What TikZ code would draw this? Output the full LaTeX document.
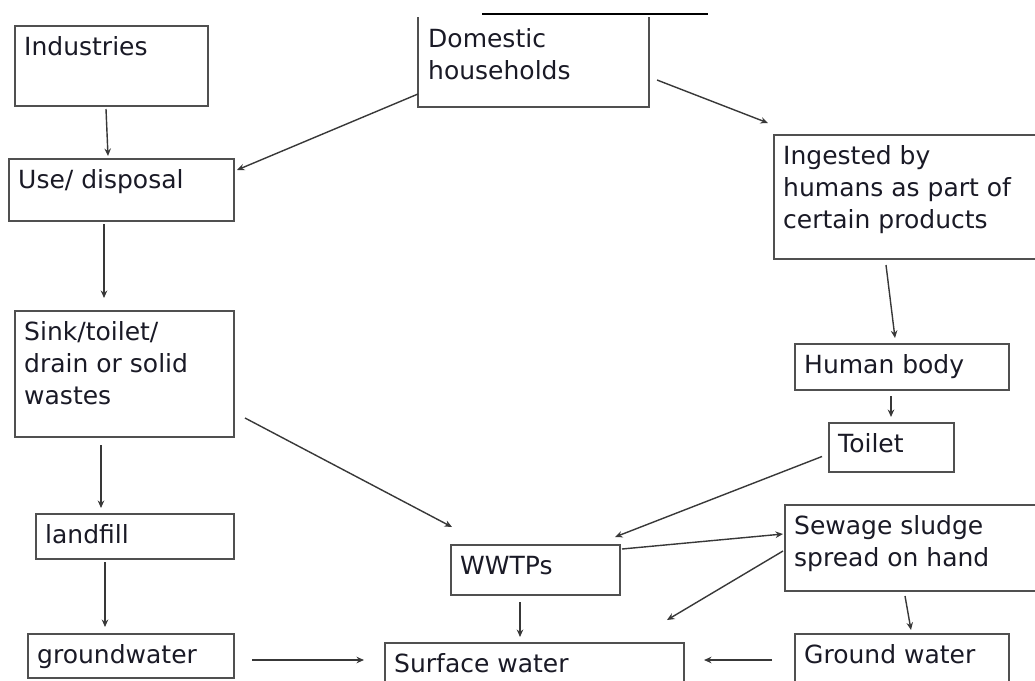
\documentclass[tikz,border=0pt]{standalone}
\usepackage{fontspec}
\setmainfont{DejaVu Sans}
\usetikzlibrary{arrows.meta}
\definecolor{boxc}{HTML}{505050}
\definecolor{arrc}{HTML}{383838}
\definecolor{txtc}{HTML}{1A1A26}
\tikzset{
  box/.style={draw=boxc, line width=2pt, rectangle, inner sep=0pt, anchor=north west},
  openbox/.style={box, draw=none},
  txt/.style={anchor=north west, inner sep=0pt, align=left, text=txtc, font=\fontsize{25}{32}\selectfont},
  arr/.style={draw=arrc, line width=1.4pt, -{Stealth[length=7.5pt,width=6.5pt]}},
  rule/.style={draw=black, line width=1.8pt},
}
\newcommand\mybox[7][box]{%
  \node[#1, minimum width={#5-#3}, minimum height={#6-#4}] (#2) at (#3,#4) {};
  \node[txt] (#2-t) at ([shift={(10,10)}]#2.north west) {\rule{0pt}{20pt}#7};
}
\begin{document}
\begin{tikzpicture}[x=1pt, y=-1pt]
\useasboundingbox (0,0) rectangle (1035,680);
\clip (0,0) rectangle (1035,680);
\fill[white] (0,0) rectangle (1035,680);

% boxes
\mybox{ind}{14}{25}{207}{105}{Industries}
\mybox[openbox]{dom}{418}{17}{647}{105}{Domestic\\households}
\draw[draw=boxc, line width=2pt] (dom.north west) -- (dom.south west) -- (dom.south east) -- (dom.north east);
\draw[rule] (482,14) -- (708,14);
\mybox{use}{8}{158}{233}{220}{Use/ disposal}
\mybox{ing}{773}{134}{1040}{258}{Ingested by\\humans as part of\\certain products}
\mybox{sink}{14}{310}{233}{436}{Sink/toilet/\\drain or solid\\wastes}
\mybox{hum}{794}{343}{1008}{389}{Human body}
\mybox{toi}{828}{422}{953}{471}{Toilet}
\mybox{land}{35}{513}{233}{558}{landfill}
\mybox{wwtp}{450}{544}{619}{594}{WWTPs}
\mybox{sew}{784}{504}{1040}{590}{Sewage sludge\\spread on hand}
\mybox{grw}{27}{633}{233}{677}{groundwater}
\mybox{surf}{384}{642}{683}{700}{Surface water}
\mybox{gw}{794}{633}{1008}{700}{Ground water}

% connectors
\draw[arr] ([shift={(-5.5,2)}]ind.south) -- ([shift={(-13.5,-2)}]use.north);
\draw[arr] ([shift={(0,-13)}]dom.south west) -- ([shift={(2,12)}]use.north east);
\draw[arr] ([shift={(8,-27)}]dom.south east) -- ([shift={(-5,-11)}]ing.north west);
\draw[arr] ([shift={(-17.5,2)}]use.south) -- ([shift={(-20.5,-12)}]sink.north);
\draw[arr] ([shift={(113,5)}]ing.south west) -- ([shift={(-7,-5)}]hum.north);
\draw[arr] ([shift={(-11,5)}]hum.south) -- ([shift={(-0.5,-5)}]toi.north);
\draw[arr] ([shift={(10,-20)}]sink.south east) -- ([shift={(2,-17)}]wwtp.north west);
\draw[arr] ([shift={(-23.5,7)}]sink.south) -- ([shift={(-34,-5)}]land.north);
\draw[arr] ([shift={(-6,9)}]toi.west) -- ([shift={(-6,-7)}]wwtp.north east);
\draw[arr] ([shift={(1,5)}]wwtp.north east) -- ([shift={(-1,30)}]sew.north west);
\draw[arr] ([shift={(-1,3)}]sew.west) -- ([shift={(-18,-22)}]surf.north east);
\draw[arr] ([shift={(121,4)}]sew.south west) -- ([shift={(9,-3)}]gw.north);
\draw[arr] ([shift={(-30,2)}]land.south) -- ([shift={(-26,-6)}]grw.north);
\draw[arr] ([shift={(-15.5,6)}]wwtp.south) -- ([shift={(-14.5,-5)}]surf.north);
\draw[arr] ([shift={(17,27)}]grw.north east) -- ([shift={(-20,18)}]surf.north west);
\draw[arr] ([shift={(-22,27)}]gw.north west) -- ([shift={(19,18)}]surf.north east);
\end{tikzpicture}
\end{document}
